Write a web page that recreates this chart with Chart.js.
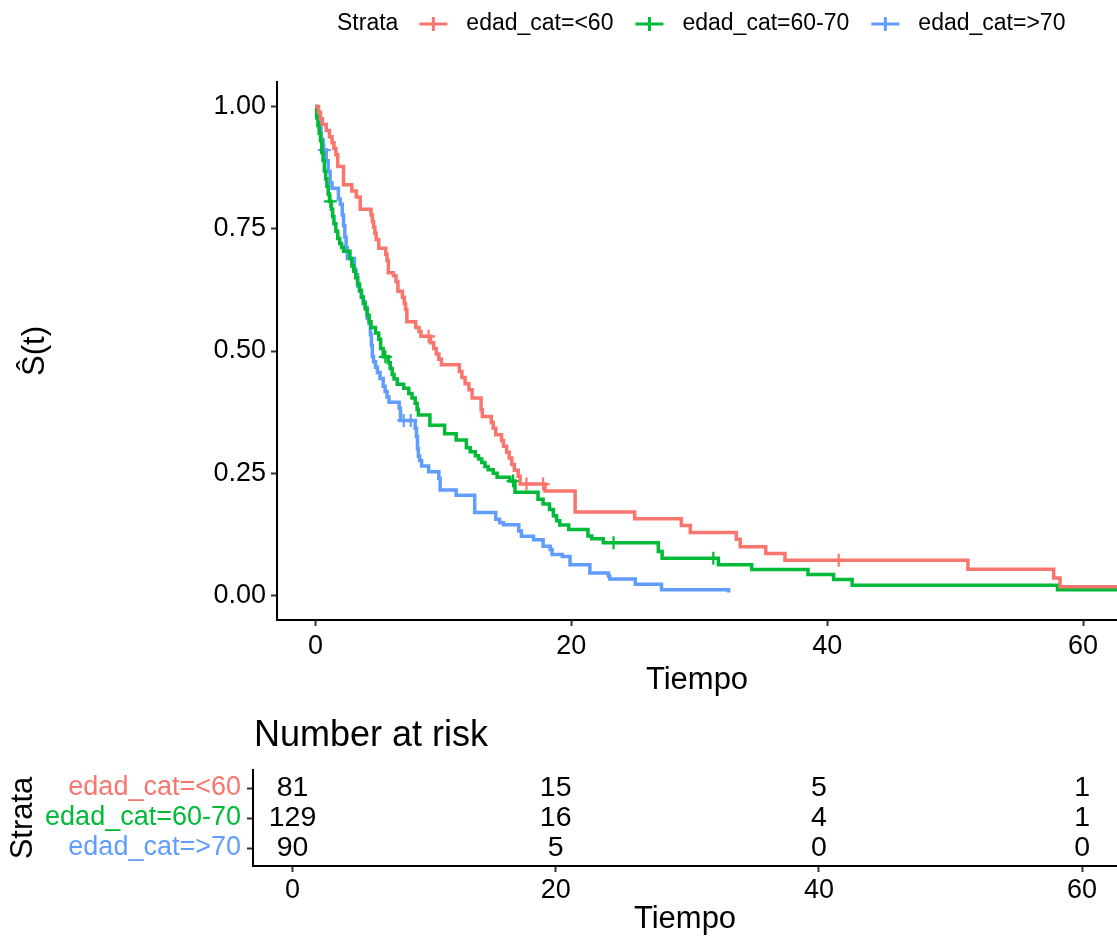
<!DOCTYPE html>
<html>
<head>
<meta charset="utf-8">
<title>Supervivencia por edad</title>
<script src="https://cdn.jsdelivr.net/npm/chart.js@4.4.0/dist/chart.umd.min.js"></script>
<style>
    html, body { margin: 0; padding: 0; background: #fff; overflow: hidden; }
    #wrap { position: relative; width: 1117px; height: 938px; overflow: hidden; }
    #survChart { position: absolute; left: 0; top: 0; }
    #riskChart { position: absolute; left: 0; top: 700px; }
</style>
</head>
<body>
<div id="wrap">
    <canvas id="survChart" width="1117" height="700"></canvas>
    <canvas id="riskChart" width="1117" height="238"></canvas>
</div>
<script>
// Configuración global
Chart.defaults.font.family = '"Liberation Sans", Arial, sans-serif';
Chart.defaults.color = '#000';

// Estratos
const strataLabels = ['edad_cat=<60', 'edad_cat=60-70', 'edad_cat=>70'];
const strataColors = ['#F8766D', '#00BA38', '#619CFF'];

// Curva edad_cat=<60 (tiempo del evento, S(t) después del evento)
const timeLt60 = [0, 0.25, 0.4, 0.55, 0.85, 1.1, 1.3, 1.45, 1.6, 1.75, 2.2, 2.85, 3.2, 3.5, 4.35, 4.45, 4.55, 4.65, 4.75, 4.95,
    5.5, 5.6, 5.7, 6.1, 6.3, 6.45, 6.8, 6.95, 7.05, 7.15, 7.85, 8.1, 8.25, 9.0, 9.25, 9.45, 9.65, 9.85, 11.25, 11.45,
    11.7, 12.0, 12.25, 12.95, 13.05, 13.75, 13.9, 14.1, 14.55, 14.7, 14.95, 15.15, 15.35, 15.55, 15.85, 16.0, 17.95, 20.3, 24.95, 28.6,
    29.3, 32.9, 33.2, 35.2, 36.7, 51.0, 57.7, 58.2, 64];
const survLt60 = [1, 0.988, 0.975, 0.963, 0.951, 0.938, 0.926, 0.914, 0.901, 0.877, 0.840, 0.827, 0.815, 0.790, 0.778, 0.765, 0.753, 0.741, 0.728, 0.710,
    0.698, 0.685, 0.660, 0.654, 0.642, 0.622, 0.610, 0.597, 0.585, 0.560, 0.548, 0.540, 0.530, 0.517, 0.505, 0.494, 0.483, 0.472, 0.458, 0.446,
    0.433, 0.421, 0.404, 0.380, 0.366, 0.354, 0.342, 0.329, 0.317, 0.305, 0.293, 0.281, 0.268, 0.256, 0.244, 0.228, 0.214, 0.171, 0.157, 0.143,
    0.129, 0.115, 0.100, 0.086, 0.072, 0.054, 0.036, 0.018, 0.018];

// Curva edad_cat=60-70
const time6070 = [0, 0.1, 0.2, 0.3, 0.4, 0.5, 0.6, 0.7, 0.8, 0.9, 1.0, 1.1, 1.25, 1.35, 1.45, 1.6, 1.75, 1.9, 2.05, 2.2,
    2.7, 2.85, 3.0, 3.15, 3.3, 3.45, 3.6, 3.75, 3.9, 4.05, 4.2, 4.35, 4.7, 4.95, 5.1, 5.3, 5.7, 5.85, 6.0, 6.15,
    6.4, 6.9, 7.3, 7.55, 7.8, 7.95, 8.05, 8.95, 10.1, 11.0, 11.8, 12.1, 12.5, 12.75, 13.0, 13.25, 13.5, 13.9, 14.2, 15.2,
    15.6, 17.4, 17.8, 18.3, 18.6, 18.85, 19.1, 19.8, 21.3, 21.6, 22.5, 26.8, 27.1, 31.5, 34.1, 38.5, 40.5, 41.95, 58.0, 64];
const surv6070 = [1, 0.977, 0.961, 0.945, 0.930, 0.906, 0.890, 0.868, 0.852, 0.837, 0.821, 0.806, 0.790, 0.775, 0.760, 0.745, 0.730, 0.720, 0.712, 0.704,
    0.689, 0.674, 0.663, 0.650, 0.637, 0.624, 0.610, 0.597, 0.586, 0.573, 0.560, 0.548, 0.537, 0.524, 0.505, 0.488, 0.476, 0.464, 0.452, 0.443,
    0.432, 0.424, 0.413, 0.404, 0.393, 0.381, 0.369, 0.348, 0.331, 0.318, 0.302, 0.294, 0.286, 0.279, 0.272, 0.264, 0.257, 0.250, 0.242, 0.234,
    0.211, 0.197, 0.187, 0.176, 0.163, 0.153, 0.144, 0.135, 0.122, 0.116, 0.108, 0.090, 0.076, 0.063, 0.053, 0.043, 0.033, 0.021, 0.012, 0.012];

// Curva edad_cat=>70
const timeGt70 = [0, 0.15, 0.3, 0.45, 0.6, 0.85, 1.0, 1.15, 1.3, 1.8, 1.95, 2.1, 2.2, 2.3, 2.4, 2.5,
    3.05, 3.15, 3.3, 3.45, 3.6, 3.75, 3.9, 4.05, 4.2, 4.3, 4.38, 4.45, 4.55, 4.7, 4.85, 5.05, 5.3, 5.45, 5.6, 5.75,
    6.55, 6.65, 7.8, 7.9, 7.98, 8.05, 8.15, 8.3, 8.85, 9.65, 9.75,
    11.0, 12.45, 14.1, 14.4, 14.7, 15.9, 16.1, 17.05, 17.8, 18.35, 18.5, 19.3, 19.9, 21.45, 22.9, 23.0, 25.0, 27.05, 32.3];
const survGt70 = [1, 0.978, 0.956, 0.933, 0.911, 0.889, 0.867, 0.844, 0.833, 0.811, 0.800, 0.778, 0.756, 0.733, 0.711, 0.689,
    0.667, 0.656, 0.633, 0.622, 0.611, 0.600, 0.589, 0.567, 0.556, 0.533, 0.511, 0.489, 0.478, 0.467, 0.456, 0.444, 0.428, 0.417, 0.406, 0.395,
    0.383, 0.358, 0.342, 0.325, 0.300, 0.285, 0.276, 0.265, 0.253, 0.240, 0.216,
    0.205, 0.170, 0.156, 0.149, 0.145, 0.132, 0.121, 0.114, 0.101, 0.094, 0.084, 0.080, 0.063, 0.046, 0.040, 0.034, 0.023, 0.012, 0.006];

// Censuras (+)
const censorTimeLt60 = [8.85, 16.5, 17.8, 40.9];
const censorSurvLt60 = [0.530, 0.228, 0.228, 0.072];
const censorTime6070 = [1.17, 5.47, 15.45, 23.3, 31.1];
const censorSurv6070 = [0.806, 0.488, 0.234, 0.108, 0.076];
const censorTimeGt70 = [0.7, 6.9, 7.45];
const censorSurvGt70 = [0.911, 0.358, 0.358];

// Ejes
const xTicks = [0, 20, 40, 60];
const yTicks = [0, 0.25, 0.5, 0.75, 1];

// Tabla de número en riesgo
const riskTimes = [0, 20, 40, 60];
const riskLt60 = [81, 15, 5, 1];
const risk6070 = [129, 16, 4, 1];
const riskGt70 = [90, 5, 0, 0];

const X_MIN = -3, X_MAX = 62.65;

function toPoints(ts, ss) {
    return ts.map((t, i) => ({x: t, y: ss[i]}));
}

function axisGrid() {
    return {
        display: true,
        drawOnChartArea: false,
        drawTicks: true,
        tickLength: 6,
        tickWidth: 2,
        tickColor: '#333'
    };
}

// Leyenda superior "Strata"
const strataLegend = {
    id: 'strataLegend',
    afterDraw(chart) {
        const ctx = chart.ctx;
        const y = 24;
        ctx.save();
        ctx.font = '23px "Liberation Sans", Arial, sans-serif';
        ctx.textBaseline = 'middle';
        ctx.textAlign = 'left';
        ctx.fillStyle = '#000';
        let x = 337;
        ctx.fillText('Strata', x, y);
        x += ctx.measureText('Strata').width + 21;
        strataLabels.forEach((lab, i) => {
            ctx.strokeStyle = strataColors[i];
            ctx.lineWidth = 3;
            ctx.beginPath();
            ctx.moveTo(x, y);
            ctx.lineTo(x + 28, y);
            ctx.moveTo(x + 14, y - 7);
            ctx.lineTo(x + 14, y + 7);
            ctx.stroke();
            x += 28 + 19;
            ctx.fillStyle = '#000';
            ctx.fillText(lab, x, y);
            x += ctx.measureText(lab).width + 22;
        });
        ctx.restore();
    }
};

// Gráfico de supervivencia
function initializeSurvivalChart() {
    const ctx = document.getElementById('survChart').getContext('2d');
    const curves = [[timeLt60, survLt60], [time6070, surv6070], [timeGt70, survGt70]];
    const censors = [[censorTimeLt60, censorSurvLt60], [censorTime6070, censorSurv6070], [censorTimeGt70, censorSurvGt70]];
    const datasets = [];
    curves.forEach((c, i) => {
        datasets.push({
            label: strataLabels[i],
            data: toPoints(c[0], c[1]),
            borderColor: strataColors[i],
            borderWidth: 3.5,
            stepped: 'before',
            pointRadius: 0,
            fill: false
        });
    });
    censors.forEach((c, i) => {
        datasets.push({
            label: strataLabels[i] + ' censura',
            data: toPoints(c[0], c[1]),
            showLine: false,
            pointStyle: 'cross',
            pointRadius: 6.5,
            pointBorderWidth: 2.2,
            borderColor: strataColors[i],
            pointBorderColor: strataColors[i]
        });
    });

    new Chart(ctx, {
        type: 'line',
        data: { datasets },
        options: {
            responsive: false,
            animation: false,
            layout: { autoPadding: false, padding: { top: 82, left: 0, right: 0, bottom: 0 } },
            plugins: {
                legend: { display: false },
                tooltip: { enabled: false }
            },
            scales: {
                x: {
                    type: 'linear',
                    min: X_MIN,
                    max: X_MAX,
                    afterBuildTicks: axis => { axis.ticks = xTicks.map(v => ({value: v})); },
                    afterFit: axis => { axis.height = 80; },
                    ticks: { font: { size: 27 }, padding: 4, color: '#000' },
                    grid: axisGrid(),
                    border: { display: true, color: '#000', width: 2 },
                    title: { display: true, text: 'Tiempo', font: { size: 31 }, color: '#000', padding: { top: 0, bottom: 1 } }
                },
                y: {
                    type: 'linear',
                    min: -0.05,
                    max: 1.05,
                    afterBuildTicks: axis => { axis.ticks = yTicks.map(v => ({value: v})); },
                    afterFit: axis => { axis.width = 277; },
                    ticks: { font: { size: 27 }, padding: 5, color: '#000', callback: v => v.toFixed(2) },
                    grid: axisGrid(),
                    border: { display: true, color: '#000', width: 2 },
                    title: { display: true, text: 'Ŝ(t)', font: { size: 31 }, color: '#000', padding: { top: 17, bottom: 0 } }
                }
            }
        },
        plugins: [strataLegend]
    });
}

// Números en riesgo y título de la tabla
const riskNumbers = {
    id: 'riskNumbers',
    afterDraw(chart) {
        const {ctx, scales: {x, y}} = chart;
        const rows = [riskLt60, risk6070, riskGt70];
        ctx.save();
        ctx.fillStyle = '#000';
        ctx.font = '28.5px "Liberation Sans", Arial, sans-serif';
        ctx.textAlign = 'center';
        ctx.textBaseline = 'middle';
        rows.forEach((row, i) => {
            row.forEach((n, j) => {
                ctx.fillText(String(n), x.getPixelForValue(riskTimes[j]), y.getPixelForValue(i + 1));
            });
        });
        ctx.font = '36px "Liberation Sans", Arial, sans-serif';
        ctx.textAlign = 'left';
        ctx.fillText('Number at risk', chart.chartArea.left + 1, 36.5);
        ctx.restore();
    }
};

// Tabla de número en riesgo
function initializeRiskTable() {
    const ctx = document.getElementById('riskChart').getContext('2d');
    const rows = [riskLt60, risk6070, riskGt70];
    new Chart(ctx, {
        type: 'scatter',
        data: {
            datasets: rows.map((row, i) => ({
                label: strataLabels[i],
                data: riskTimes.map(t => ({x: t, y: i + 1})),
                pointRadius: 0
            }))
        },
        options: {
            responsive: false,
            animation: false,
            layout: { autoPadding: false, padding: { top: 70, left: 0, right: 0, bottom: 0 } },
            plugins: {
                legend: { display: false },
                tooltip: { enabled: false }
            },
            scales: {
                x: {
                    type: 'linear',
                    min: X_MIN,
                    max: X_MAX,
                    afterBuildTicks: axis => { axis.ticks = xTicks.map(v => ({value: v})); },
                    afterFit: axis => { axis.height = 72; },
                    ticks: { font: { size: 27 }, padding: 2, color: '#000' },
                    grid: axisGrid(),
                    border: { display: true, color: '#000', width: 2 },
                    title: { display: true, text: 'Tiempo', font: { size: 31 }, color: '#000', padding: { top: 0, bottom: 0 } }
                },
                y: {
                    type: 'linear',
                    min: 0.4,
                    max: 3.6,
                    reverse: true,
                    afterBuildTicks: axis => { axis.ticks = [1, 2, 3].map(v => ({value: v})); },
                    afterFit: axis => { axis.width = 253; },
                    ticks: {
                        font: { size: 27 },
                        padding: 6,
                        color: c => strataColors[c.index],
                        callback: v => strataLabels[v - 1]
                    },
                    grid: axisGrid(),
                    border: { display: true, color: '#000', width: 2 },
                    title: { display: true, text: 'Strata', font: { size: 31 }, color: '#000', padding: { top: 5, bottom: 0 } }
                }
            }
        },
        plugins: [riskNumbers]
    });
}

document.addEventListener('DOMContentLoaded', () => {
    initializeSurvivalChart();
    initializeRiskTable();
});
</script>
</body>
</html>
